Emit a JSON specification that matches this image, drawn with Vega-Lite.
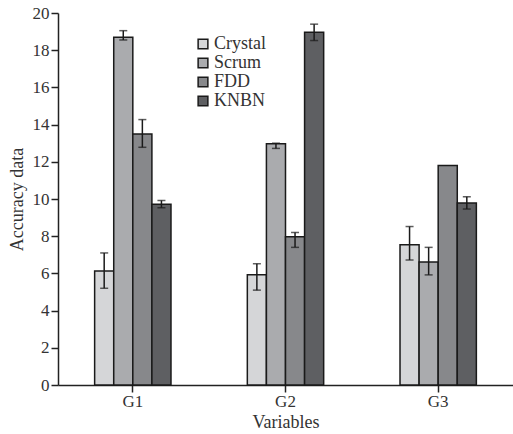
{
  "$schema": "https://vega.github.io/schema/vega-lite/v6.json",
  "width": 455,
  "height": 372,
  "autosize": {"type": "none"},
  "padding": {"left": 58, "top": 13, "right": 0, "bottom": 49},
  "background": "white",
  "config": {
    "view": {"stroke": null},
    "font": "Liberation Serif",
    "axis": {"grid": false, "domainColor": "#222", "domainWidth": 1.5, "tickColor": "#222", "tickWidth": 1.5, "labelFont": "Liberation Serif", "titleFont": "Liberation Serif", "labelFontSize": 17, "titleFontSize": 18, "labelColor": "#333", "titleColor": "#333", "titleFontWeight": "normal", "labelOverlap": false}
  },
  "data": {
    "values": [
      {"group": "G1", "series": "Crystal", "value": 6.13, "lo": 5.2, "hi": 7.1},
      {"group": "G1", "series": "Scrum", "value": 18.7, "lo": 18.55, "hi": 19.05},
      {"group": "G1", "series": "FDD", "value": 13.5, "lo": 12.78, "hi": 14.27},
      {"group": "G1", "series": "KNBN", "value": 9.72, "lo": 9.53, "hi": 9.92},
      {"group": "G2", "series": "Crystal", "value": 5.93, "lo": 5.1, "hi": 6.52},
      {"group": "G2", "series": "Scrum", "value": 12.97, "lo": 12.72, "hi": 13.0},
      {"group": "G2", "series": "FDD", "value": 7.97, "lo": 7.4, "hi": 8.2},
      {"group": "G2", "series": "KNBN", "value": 18.96, "lo": 18.52, "hi": 19.4},
      {"group": "G3", "series": "Crystal", "value": 7.54, "lo": 6.72, "hi": 8.52},
      {"group": "G3", "series": "Scrum", "value": 6.61, "lo": 5.92, "hi": 7.4},
      {"group": "G3", "series": "FDD", "value": 11.8, "lo": null, "hi": null},
      {"group": "G3", "series": "KNBN", "value": 9.78, "lo": 9.46, "hi": 10.12}
    ]
  },
  "encoding": {
    "x": {"field": "group", "type": "nominal", "title": "Variables",
      "scale": {"paddingInner": 0.5, "paddingOuter": 0.24},
      "axis": {"labelAngle": 0, "tickSize": 7, "labelPadding": 1, "titlePadding": 4}},
    "xOffset": {"field": "series", "type": "nominal", "sort": ["Crystal", "Scrum", "FDD", "KNBN"], "scale": {"paddingInner": 0, "paddingOuter": 0}}
  },
  "layer": [
    {
      "mark": {"type": "bar", "stroke": "#1a1a1a", "strokeWidth": 1.5},
      "encoding": {
        "y": {"field": "value", "type": "quantitative", "title": "Accuracy data",
          "scale": {"domain": [0, 20], "nice": false},
          "axis": {"values": [0, 2, 4, 6, 8, 10, 12, 14, 16, 18, 20], "labelOverlap": false, "tickSize": 7, "labelPadding": 2, "titlePadding": 6}},
        "color": {"field": "series", "type": "nominal", "sort": ["Crystal", "Scrum", "FDD", "KNBN"],
          "scale": {"domain": ["Crystal", "Scrum", "FDD", "KNBN"], "range": ["#d5d6d8", "#aaabae", "#87888b", "#5e5f62"]},
          "legend": {"title": null, "orient": "none", "legendX": 136, "legendY": 22, "symbolType": "square", "symbolSize": 95, "symbolStrokeColor": "#1a1a1a", "symbolStrokeWidth": 1.5, "symbolOpacity": 1, "labelFont": "Liberation Serif", "labelFontSize": 18, "labelColor": "#333", "labelOffset": 2, "rowPadding": 1}}
      }
    },
    {
      "transform": [{"filter": "datum.lo != null"}],
      "mark": {"type": "rule", "color": "#1a1a1a", "strokeWidth": 1.5},
      "encoding": {
        "y": {"field": "lo", "type": "quantitative", "title": "Accuracy data",
          "axis": {"values": [0, 2, 4, 6, 8, 10, 12, 14, 16, 18, 20], "labelOverlap": false, "tickSize": 7, "labelPadding": 2, "titlePadding": 6}},
        "y2": {"field": "hi"}
      }
    },
    {
      "transform": [{"filter": "datum.lo != null"}],
      "mark": {"type": "tick", "color": "#1a1a1a", "thickness": 1.5, "size": 8, "orient": "horizontal"},
      "encoding": {"y": {"field": "lo", "type": "quantitative", "title": "Accuracy data",
          "axis": {"values": [0, 2, 4, 6, 8, 10, 12, 14, 16, 18, 20], "labelOverlap": false, "tickSize": 7, "labelPadding": 2, "titlePadding": 6}}}
    },
    {
      "transform": [{"filter": "datum.lo != null"}],
      "mark": {"type": "tick", "color": "#1a1a1a", "thickness": 1.5, "size": 8, "orient": "horizontal"},
      "encoding": {"y": {"field": "hi", "type": "quantitative", "title": "Accuracy data",
          "axis": {"values": [0, 2, 4, 6, 8, 10, 12, 14, 16, 18, 20], "labelOverlap": false, "tickSize": 7, "labelPadding": 2, "titlePadding": 6}}}
    }
  ]
}
